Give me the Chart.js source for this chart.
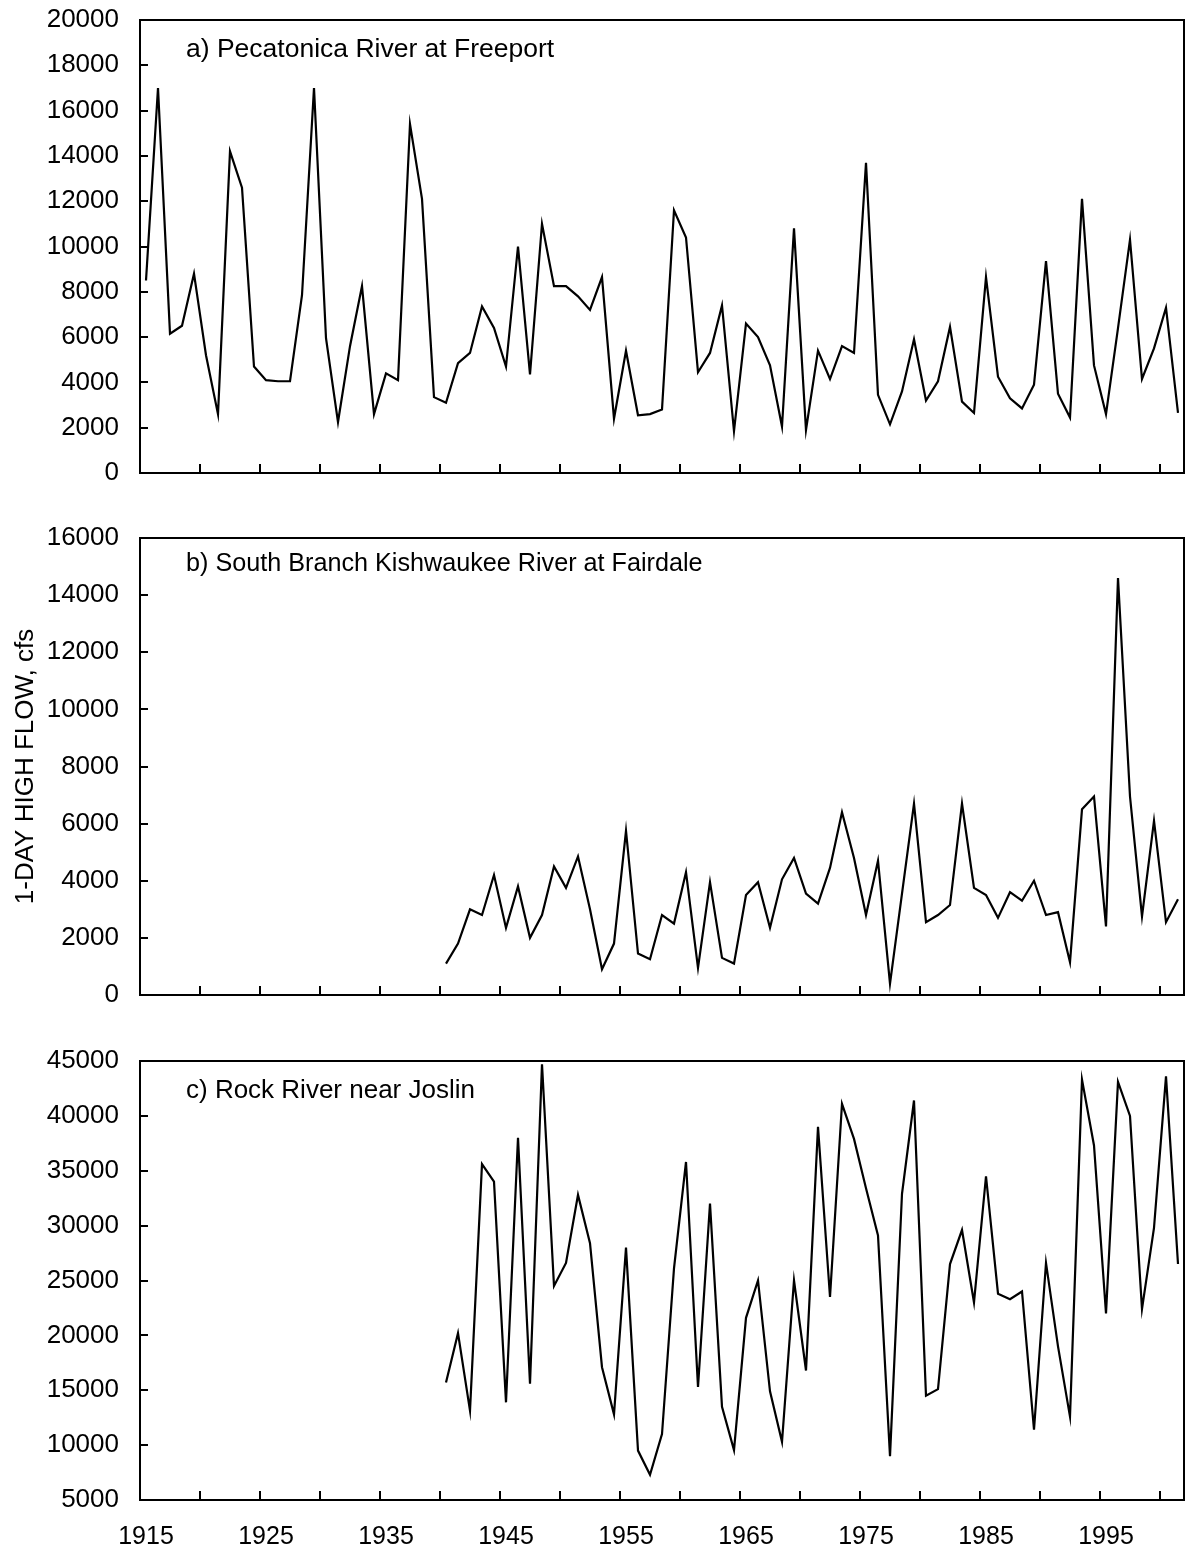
<!DOCTYPE html>
<html><head><meta charset="utf-8">
<script src="https://cdn.jsdelivr.net/npm/chart.js@4/dist/chart.umd.min.js"></script>
<style>
html,body{margin:0;padding:0;background:#fff;}
body{width:1185px;height:1554px;position:relative;overflow:hidden;}
.panel{position:absolute;left:0;width:1185px;}
</style></head><body>
<div class="panel" style="top:0;height:500px"><canvas id="ca"></canvas></div>
<div class="panel" style="top:500px;height:520px"><canvas id="cb"></canvas></div>
<div class="panel" style="top:1020px;height:534px"><canvas id="cc"></canvas></div>
<script>
// Categories: water years 1915–2001
const years = ['1915','1916','1917','1918','1919','1920','1921','1922','1923','1924',
 '1925','1926','1927','1928','1929','1930','1931','1932','1933','1934',
 '1935','1936','1937','1938','1939','1940','1941','1942','1943','1944',
 '1945','1946','1947','1948','1949','1950','1951','1952','1953','1954',
 '1955','1956','1957','1958','1959','1960','1961','1962','1963','1964',
 '1965','1966','1967','1968','1969','1970','1971','1972','1973','1974',
 '1975','1976','1977','1978','1979','1980','1981','1982','1983','1984',
 '1985','1986','1987','1988','1989','1990','1991','1992','1993','1994',
 '1995','1996','1997','1998','1999','2000','2001'];
const xTickLabels = ['1915','1925','1935','1945','1955','1965','1975','1985','1995'];

// a) Pecatonica River at Freeport, 1915–2001
const pecatonica = [8500,17000,6150,6500,8800,5200,2600,14200,12600,4700,
 4100,4050,4050,7850,17000,5950,2250,5600,8250,2600,
 4400,4100,15400,12100,3350,3100,4850,5300,7350,6400,
 4700,10000,4350,11000,8250,8250,7800,7200,8650,2400,
 5400,2550,2600,2800,11600,10400,4450,5300,7400,1850,
 6600,6000,4750,2050,10800,1900,5400,4150,5600,5300,
 13700,3450,2150,3600,5900,3200,4050,6450,3150,2650,
 8650,4250,3300,2850,3900,9350,3500,2450,12100,4750,
 2600,6400,10300,4150,5500,7300,2650];

// b) South Branch Kishwaukee River at Fairdale, 1940–2001
const kishStart = '1940';
const kishwaukee = [1100,1800,3000,2800,4200,2350,3800,2000,2800,4500,
 3750,4850,3000,900,1800,5750,1450,1250,2800,2500,
 4300,950,3950,1300,1100,3500,3950,2350,4050,4800,
 3550,3200,4450,6400,4800,2800,4700,400,3550,6700,
 2550,2800,3150,6700,3750,3500,2700,3600,3300,4000,
 2800,2900,1150,6500,6950,2400,14600,6950,2750,6100,
 2550,3350];

// c) Rock River near Joslin, 1940–2001
const rockStart = '1940';
const rock = [15700,20200,13150,35600,34000,13900,38000,15600,44700,24500,
 26600,32800,28400,17100,12800,28000,9500,7300,11000,26100,
 35800,15300,32000,13500,9550,21600,25000,14900,10300,25000,
 16800,39000,23500,41100,37900,33400,29100,9000,32900,41400,
 14500,15100,26500,29600,23000,34500,23800,23300,24000,11400,
 26600,19000,12600,43300,37300,22000,43100,40000,22400,29800,
 43600,26500];

const panelTitles = ['a) Pecatonica River at Freeport',
 'b) South Branch Kishwaukee River at Fairdale',
 'c) Rock River near Joslin'];
const yAxisTitle = '1-DAY HIGH FLOW, cfs';
const yRangeA = [0, 20000, 2000];
const yRangeB = [0, 16000, 2000];
const yRangeC = [5000, 45000, 5000];

function alignToYears(start, vals) {
  const out = years.map(() => null);
  const i0 = years.indexOf(start);
  vals.forEach((v, i) => { out[i0 + i] = v; });
  return out;
}

Chart.defaults.font.family = '"Liberation Sans", Arial, sans-serif';
Chart.defaults.font.size = 25;
Chart.defaults.color = '#000';

const framePlugin = {
  id: 'frame',
  afterDraw(chart, args, opts) {
    const {ctx, chartArea: a} = chart;
    ctx.save();
    ctx.strokeStyle = '#000';
    ctx.lineWidth = 2;
    ctx.beginPath();
    ctx.moveTo(a.left, a.top); ctx.lineTo(a.right, a.top); ctx.lineTo(a.right, a.bottom);
    ctx.stroke();
    ctx.fillStyle = '#000';
    ctx.font = opts.size + 'px "Liberation Sans", Arial, sans-serif';
    ctx.textBaseline = 'middle';
    ctx.textAlign = 'left';
    ctx.fillText(opts.text, a.left + opts.dx, a.top + opts.dy);
    ctx.restore();
  }
};

function makePanel(id, data, yr, title, titleSize, showX, showYTitle, padTop, xHeight, dy) {
  new Chart(document.getElementById(id), {
    type: 'line',
    data: {
      labels: years,
      datasets: [{
        data: data,
        borderColor: '#000',
        borderWidth: 2.2,
        pointRadius: 0,
        tension: 0,
        fill: false
      }]
    },
    options: {
      responsive: true,
      maintainAspectRatio: false,
      animation: false,
      devicePixelRatio: 1,
      layout: { padding: { top: padTop, right: 1, left: 0, bottom: 0 } },
      plugins: {
        legend: { display: false },
        tooltip: { enabled: false },
        frame: { text: title, size: titleSize, dx: 46, dy: dy }
      },
      scales: {
        x: {
          type: 'category',
          offset: true,
          border: { display: true, color: '#000', width: 2 },
          grid: {
            offset: true,
            drawOnChartArea: false,
            drawTicks: true,
            tickLength: -9,
            lineWidth: 2,
            color: ctx => (ctx.index % 5 === 0 ? '#000' : 'rgba(0,0,0,0)')
          },
          ticks: {
            display: showX,
            autoSkip: false,
            maxRotation: 0,
            minRotation: 0,
            padding: 31,
            font: { size: 25 },
            callback: function(v, i) {
              const lab = years[i];
              return xTickLabels.includes(lab) ? lab : '';
            }
          },
          afterFit: s => { s.height = xHeight; s.paddingLeft = 0; s.paddingRight = 0; }
        },
        y: {
          min: yr[0], max: yr[1],
          border: { display: true, color: '#000', width: 2 },
          grid: {
            drawOnChartArea: false,
            drawTicks: true,
            tickLength: -8,
            lineWidth: 2,
            color: '#000'
          },
          ticks: {
            stepSize: yr[2],
            padding: 29,
            font: { size: 26 },
            callback: v => String(v)
          },
          title: {
            display: showYTitle,
            text: yAxisTitle,
            font: { size: 26 },
            padding: { top: 10, bottom: 0 }
          },
          afterFit: s => { s.width = 140; s.paddingTop = 0; s.paddingBottom = 0; }
        }
      }
    },
    plugins: [framePlugin]
  });
}

makePanel('ca', pecatonica, yRangeA, panelTitles[0], 26.5, false, false, 20, 27, 30);
makePanel('cb', alignToYears(kishStart, kishwaukee), yRangeB, panelTitles[1], 25.2, false, true, 38, 25, 26);
makePanel('cc', alignToYears(rockStart, rock), yRangeC, panelTitles[2], 26, true, false, 41, 54, 30);
</script>
</body></html>
